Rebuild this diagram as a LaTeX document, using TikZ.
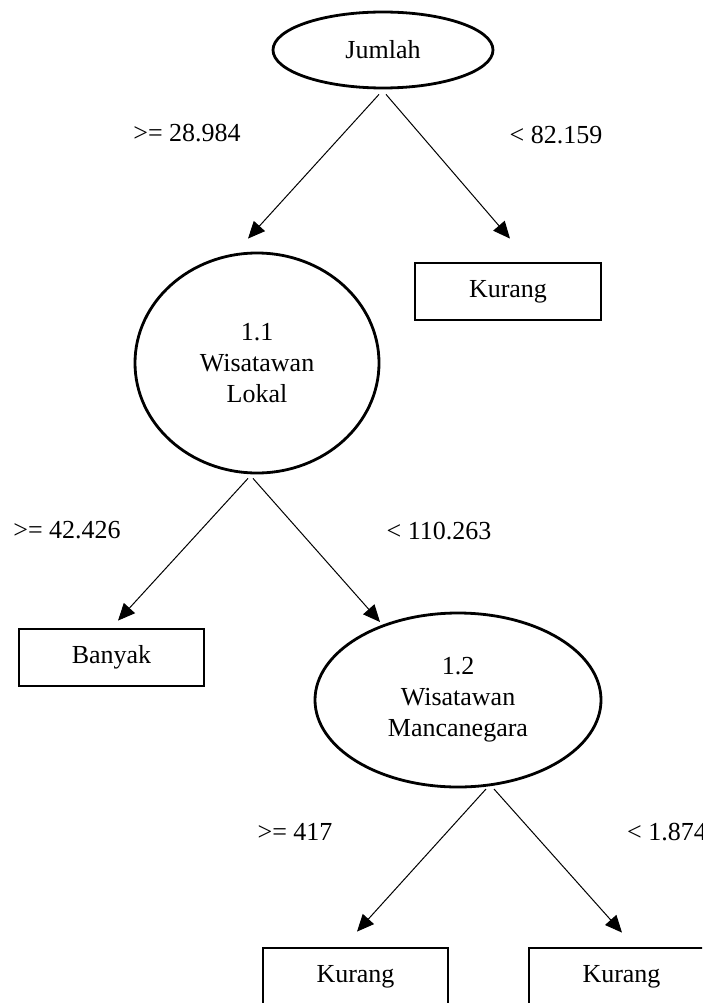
\documentclass[tikz,border=0pt]{standalone}
\usepackage{fontspec}
\setmainfont{Liberation Serif}
\usetikzlibrary{shapes.geometric,arrows.meta,calc}
\tikzset{
  every node/.style={font=\fontsize{26}{31}\selectfont, align=center, inner sep=0pt},
  oval/.style={ellipse, draw, line width=2.8pt},
  leaf/.style={rectangle, draw, line width=2.8pt},
  edge/.style={line width=1pt, -{Triangle[length=17pt,width=15pt]}},
  lbl/.style={}
}
\begin{document}
\begin{tikzpicture}[x=1pt,y=-1pt]
\useasboundingbox (0,0) rectangle (702,1003);
\clip (0,0) rectangle (702,1003);
\fill[white] (0,0) rectangle (702,1003);
% nodes
\node[oval, minimum width=220pt, minimum height=76pt] (jumlah) at (383,50) {Jumlah};
\node[oval, minimum width=244pt, minimum height=220pt] (n11) at (257,363) {1.1\\Wisatawan\\Lokal};
\node[oval, minimum width=286pt, minimum height=174pt] (n12) at (458,700) {1.2\\Wisatawan\\Mancanegara};
\node[leaf, minimum width=186pt, minimum height=57pt] (kurang1) at (508,291.5) {Kurang};
\node[leaf, minimum width=185pt, minimum height=57pt] (banyak) at (111.5,657.5) {Banyak};
\node[leaf, minimum width=185pt, minimum height=57pt] (kurang2) at (355.5,976.5) {Kurang};
\node[leaf, minimum width=185pt, minimum height=57pt] (kurang3) at (621.5,976.5) {Kurang};
% labels
\node[lbl] (l1) at (187,133) {>= 28.984};
\node[lbl] (l2) at (556,135) {< 82.159};
\node[lbl] (l3) at (67,530) {>= 42.426};
\node[lbl] (l4) at (439,531) {< 110.263};
\node[lbl] (l5) at (295,832) {>= 417};
\node[lbl, anchor=west] (l6) at (627,832) {< 1.874};
% connector end points
\coordinate (ja) at ($(jumlah.south)+(-4,5)$);
\coordinate (jb) at ($(jumlah.south)+(3,5)$);
\coordinate (ta) at ($(n11.north)+(-9,-13)$);
\coordinate (tb) at ($(kurang1.north)+(2,-23)$);
\coordinate (ka) at ($(n11.south)+(-9,4)$);
\coordinate (kb) at ($(n11.south)+(-4,4)$);
\coordinate (tc) at ($(banyak.north)+(6.5,-7)$);
\coordinate (td) at (380,622);
\coordinate (ma) at (486,789);
\coordinate (mb) at (494,789);
\coordinate (te) at ($(kurang2.north)+(1.5,-15)$);
\coordinate (tf) at ($(kurang3.north)+(0.5,-14)$);
% connectors
\draw[edge] (ja) -- (ta);
\draw[edge] (jb) -- (tb);
\draw[edge] (ka) -- (tc);
\draw[edge] (kb) -- (td);
\draw[edge] (ma) -- (te);
\draw[edge] (mb) -- (tf);
\end{tikzpicture}
\end{document}
